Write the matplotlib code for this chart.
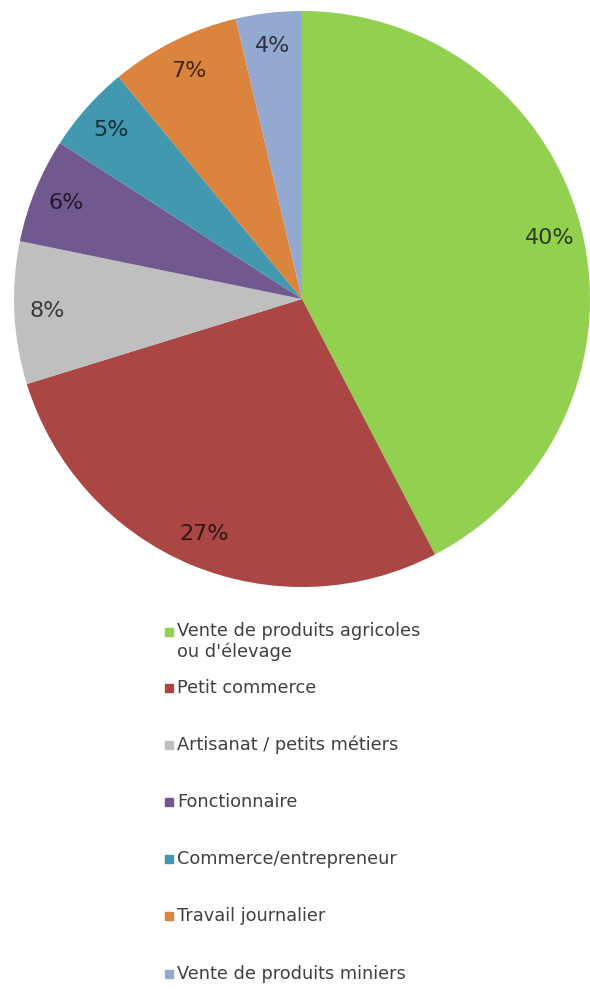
import matplotlib
matplotlib.use("Agg")
import numpy as np
import matplotlib.pyplot as plt
import matplotlib.colors as mcolors
from matplotlib.patches import Rectangle

# shares, labels as printed on the chart
categories = [
    "Vente de produits agricoles\nou d'élevage",
    "Petit commerce",
    "Artisanat / petits métiers",
    "Fonctionnaire",
    "Commerce/entrepreneur",
    "Travail journalier",
    "Vente de produits miniers",
]
shares = [42.4, 27.9, 8.0, 5.9, 4.9, 7.3, 3.7]
pct_labels = ["40%", "27%", "8%", "6%", "5%", "7%", "4%"]
colors = ["#92D050", "#AA4643", "#BFBFBF", "#71588F", "#4198AF", "#DB843D", "#93A9CF"]


def darken(c, f=0.3):
    r, g, b = mcolors.to_rgb(c)
    return (r * f, g * f, b * f)


W, H = 590, 991
fig = plt.figure(figsize=(W / 100, H / 100), dpi=100)

cx, cy, rad = 302, 299, 288
ax = fig.add_axes([(cx - rad) / W, 1 - (cy + rad) / H, 2 * rad / W, 2 * rad / H])
wedges, _ = ax.pie(shares, colors=colors, startangle=90, counterclock=False,
                   radius=1, wedgeprops=dict(linewidth=0))
ax.set_xlim(-1, 1)
ax.set_ylim(-1, 1)
ax.set_aspect("equal")
ax.axis("off")

# percentage labels at the middle angle of each wedge
for w, lab, col in zip(wedges, pct_labels, colors):
    ang = np.deg2rad((w.theta1 + w.theta2) / 2)
    ax.text(0.885 * np.cos(ang), 0.885 * np.sin(ang), lab, ha="center", va="center",
            fontsize=16, color=darken(col))

# legend, drawn by hand to keep the uneven spacing of the original
legend_y = [632, 688, 745, 802, 859, 916, 974]
for name, col, y in zip(categories, colors, legend_y):
    fig.patches.append(Rectangle((165 / W, 1 - (y + 4) / H), 8 / W, 8 / H,
                                 transform=fig.transFigure, color=col, figure=fig))
    if "\n" in name:
        fig.text(177 / W, 1 - (y - 10) / H, name, ha="left", va="top",
                 fontsize=12.8, color="#404040", linespacing=1.15)
    else:
        fig.text(177 / W, 1 - y / H, name, ha="left", va="center",
                 fontsize=12.8, color="#404040")

fig.savefig("out.png", dpi=100, facecolor="white")
